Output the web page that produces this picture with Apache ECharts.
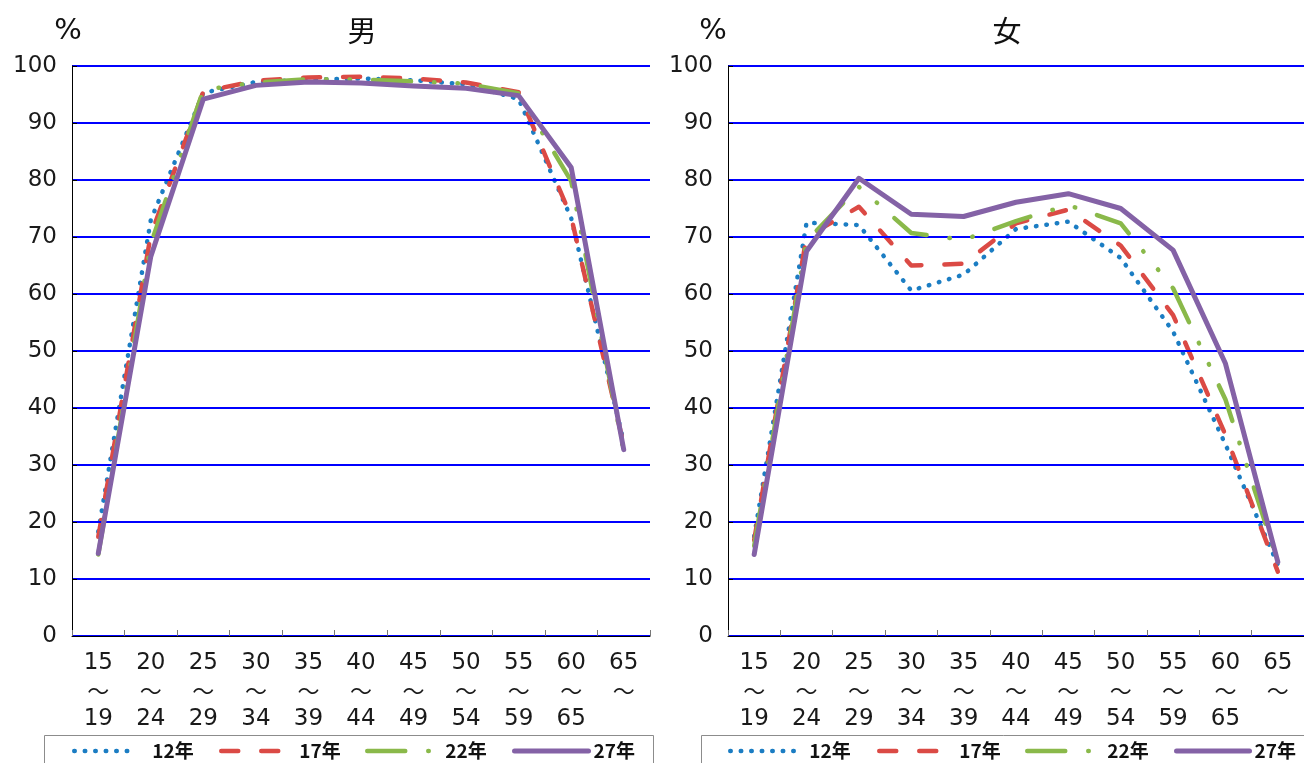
<!DOCTYPE html>
<html><head><meta charset="utf-8">
<script src="https://cdn.jsdelivr.net/npm/echarts@6/dist/echarts.min.js"></script>
<style>html,body{margin:0;padding:0;background:#fff}#c{width:1304px;height:763px}</style>
</head><body><div id="c"></div>
<script>
// ---- data ----
const categories = ['15\n～\n19','20\n～\n24','25\n～\n29','30\n～\n34','35\n～\n39','40\n～\n44','45\n～\n49','50\n～\n54','55\n～\n59','60\n～\n65','65\n～'];
const seriesNames = ['12年','17年','22年','27年'];
const yTicks = {min: 0, max: 100, step: 10};
const panelTitles = ['男','女'];
const unitLabel = '%';

const male12 = [18.3, 73.0, 95.3, 97.2, 97.6, 97.8, 97.5, 96.8, 94.2, 73.3, 34.0];
const male17 = [17.4, 70.4, 95.5, 97.4, 98.0, 98.1, 97.8, 97.1, 95.4, 73.5, 33.5];
const male22 = [14.3, 68.8, 95.8, 97.1, 97.7, 97.6, 97.3, 96.9, 95.2, 79.8, 32.3];
const male27 = [14.5, 66.6, 94.2, 96.6, 97.2, 97.0, 96.5, 96.1, 94.8, 82.2, 32.7];

const female12 = [17.5, 72.5, 72.1, 60.6, 63.4, 71.4, 72.7, 66.3, 53.4, 33.6, 12.5];
const female17 = [16.8, 70.0, 75.3, 65.0, 65.3, 72.4, 74.8, 68.5, 56.3, 35.3, 11.3];
const female22 = [15.8, 69.3, 78.8, 70.7, 69.5, 72.8, 75.6, 72.4, 61.0, 41.5, 13.0];
const female27 = [14.3, 67.5, 80.3, 74.0, 73.6, 76.1, 77.6, 75.0, 67.7, 47.8, 13.0];

const maleData = [male12, male17, male22, male27];
const femaleData = [female12, female17, female22, female27];

// ---- styles ----
const lineStyles = [
  {color: '#1B7DC3', width: 4.5, type: [0.5, 10], cap: 'round', join: 'round'},
  {color: '#DB4A45', width: 4.5, type: [17, 23], cap: 'round', join: 'round'},
  {color: '#8AB94A', width: 4.5, type: [38, 23, 0.5, 23, 0.5, 23], cap: 'round', join: 'round'},
  {color: '#8462A6', width: 5, type: 'solid', cap: 'round', join: 'round'}
];
const legendPos = [
  [{left: 72, w: 63, pad: 10}, {left: 219, w: 65, pad: 8}, {left: 365, w: 68, pad: 5}, {left: 512, w: 74, pad: 0}],
  [{left: 728, w: 65, pad: 9}, {left: 877, w: 65, pad: 10}, {left: 1025, w: 70, pad: 5}, {left: 1174, w: 73, pad: 0}]
];
const FONT = 'DejaVu Sans';
const CJK = 'Noto Sans CJK JP';

const grids = [
  {left: 72, top: 66, width: 578, height: 570},
  {left: 728, top: 66, width: 576, height: 570}
];

function catLabel(v) {
  return v.split('\n').map(function (s) { return s === '～' ? '{t|～}' : '{n|' + s + '}'; }).join('\n');
}

function xAxis(i) {
  return {
    type: 'category', gridIndex: i, data: categories, boundaryGap: true, z: 5,
    axisLine: {show: true, lineStyle: {color: '#000', width: 1}},
    axisTick: {show: true, inside: true, length: 6, lineStyle: {color: '#777', width: 1}},
    axisLabel: {
      interval: 0, margin: 13, color: '#1a1a1a', formatter: catLabel,
      rich: {
        n: {fontSize: 23, lineHeight: 28, fontFamily: FONT, color: '#1a1a1a'},
        t: {fontSize: 22, lineHeight: 28, fontFamily: CJK, color: '#1a1a1a'}
      }
    },
    splitLine: {show: false}
  };
}
function yAxis(i) {
  return {
    type: 'value', gridIndex: i, min: yTicks.min, max: yTicks.max, interval: yTicks.step, z: 4,
    axisLine: {show: true, lineStyle: {color: '#000', width: 1}},
    axisTick: {show: true, inside: true, length: 5, lineStyle: {color: '#000', width: 1}},
    axisLabel: {fontSize: 23, margin: 15, color: '#1a1a1a', fontFamily: FONT},
    splitLine: {show: true, lineStyle: {color: '#0000FF', width: 2}}
  };
}

const series = [];
[maleData, femaleData].forEach((set, gi) => {
  set.forEach((vals, si) => {
    series.push({
      type: 'line', name: seriesNames[si], xAxisIndex: gi, yAxisIndex: gi,
      data: vals, symbol: 'none', showSymbol: false, smooth: false,
      lineStyle: lineStyles[si], itemStyle: {color: lineStyles[si].color},
      z: 2 + si, animation: false
    });
  });
});

const legends = [];
legendPos.forEach((row) => {
  row.forEach((p, si) => {
    legends.push({
      data: [seriesNames[si]], left: p.left, top: 741, padding: 0,
      itemWidth: p.w, itemHeight: 18, selectedMode: false,
      itemStyle: {opacity: 0, borderWidth: 0},
      lineStyle: {width: lineStyles[si].width},
      textStyle: {fontSize: 19, fontWeight: 'bold', fontFamily: CJK, color: '#111', padding: [0, 0, 0, p.pad], lineHeight: 20}
    });
  });
});

const graphics = [
  {type: 'rect', shape: {x: 44.5, y: 735.5, width: 609, height: 40}, style: {fill: null, stroke: '#8c8c8c', lineWidth: 1}, silent: true},
  {type: 'rect', shape: {x: 701.5, y: 735.5, width: 640, height: 40}, style: {fill: null, stroke: '#8c8c8c', lineWidth: 1}, silent: true},
  {type: 'text', x: 68, y: 31, style: {text: unitLabel, fontSize: 29, fontFamily: FONT, fill: '#111', align: 'center', verticalAlign: 'middle'}},
  {type: 'text', x: 713, y: 31, style: {text: unitLabel, fontSize: 29, fontFamily: FONT, fill: '#111', align: 'center', verticalAlign: 'middle'}},
  {type: 'text', x: 362, y: 31, style: {text: panelTitles[0], fontSize: 29, fontFamily: CJK, fill: '#111', align: 'center', verticalAlign: 'middle'}},
  {type: 'text', x: 1007, y: 31, style: {text: panelTitles[1], fontSize: 29, fontFamily: CJK, fill: '#111', align: 'center', verticalAlign: 'middle'}}
];

const chart = echarts.init(document.getElementById('c'), null, {renderer: 'canvas'});
chart.setOption({
  animation: false,
  backgroundColor: '#fff',
  grid: grids,
  xAxis: [xAxis(0), xAxis(1)],
  yAxis: [yAxis(0), yAxis(1)],
  legend: legends,
  graphic: graphics,
  series: series
});
</script>
</body></html>
